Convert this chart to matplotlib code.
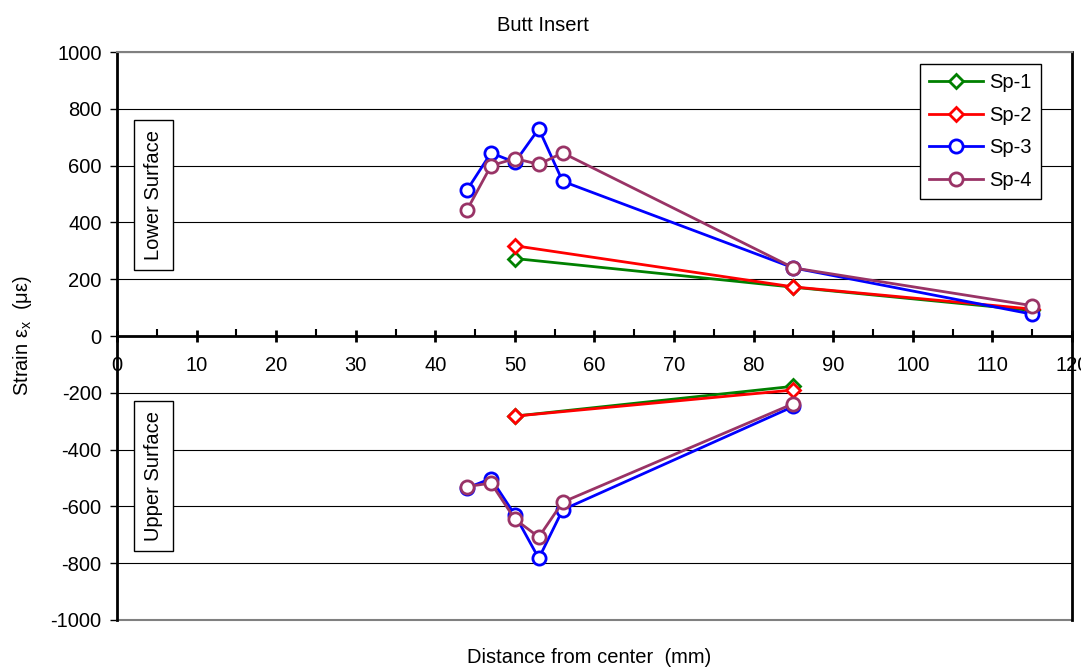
import numpy as np
import matplotlib.pyplot as plt
from matplotlib.ticker import MultipleLocator

plt.rcParams['font.family'] = ['Liberation Sans', 'DejaVu Sans']
plt.rcParams['axes.unicode_minus'] = False

# lower surface (positive strain)
x_low_13 = [50, 85, 115]
sp1_low = [273, 172, 90]
sp2_low = [318, 173, 95]
x_low_34 = [44, 47, 50, 53, 56, 85, 115]
sp3_low = [515, 645, 612, 730, 545, 240, 77]
sp4_low = [445, 600, 625, 605, 645, 240, 107]

# upper surface (negative strain)
x_up_12 = [50, 85]
sp1_up = [-282, -177]
sp2_up = [-282, -190]
x_up_34 = [44, 47, 50, 53, 56, 85]
sp3_up = [-535, -502, -630, -783, -612, -248]
sp4_up = [-530, -518, -645, -708, -585, -238]

labels = ["Sp-1", "Sp-2", "Sp-3", "Sp-4"]
colors = ["#008000", "#ff0000", "#0000ff", "#993366"]

fs = 14.5

fig = plt.figure(figsize=(10.81, 6.68), dpi=100)
ax = fig.add_axes([0.1082, 0.0719, 0.8835, 0.8501])

series = [
    (x_low_13, sp1_low, x_up_12, sp1_up, "D"),
    (x_low_13, sp2_low, x_up_12, sp2_up, "D"),
    (x_low_34, sp3_low, x_up_34, sp3_up, "o"),
    (x_low_34, sp4_low, x_up_34, sp4_up, "o"),
]
for (xl, yl, xu, yu, m), lab, c in zip(series, labels, colors):
    ms = 7.5 if m == "D" else 9.5
    ax.plot(xl, yl, color=c, lw=2, marker=m, ms=ms, mfc="white", mec=c, mew=2, label=lab, zorder=3)
    ax.plot(xu, yu, color=c, lw=2, marker=m, ms=ms, mfc="white", mec=c, mew=2, zorder=3)

ax.set_xlim(0, 120)
ax.set_ylim(-1000, 1000)
ax.yaxis.set_major_locator(MultipleLocator(200))
ax.xaxis.set_major_locator(MultipleLocator(10))
ax.xaxis.set_minor_locator(MultipleLocator(5))
ax.grid(axis="y", color="black", lw=0.8)
ax.set_axisbelow(True)

ax.spines["bottom"].set_position(("data", 0))
ax.spines["bottom"].set_linewidth(2)
ax.spines["left"].set_linewidth(2)
ax.spines["right"].set_linewidth(2)
ax.spines["top"].set_color("#808080")
ax.spines["top"].set_linewidth(1.5)
ax.axhline(-1000, color="#808080", lw=1.5, clip_on=False)

ax.tick_params(axis="x", which="major", direction="inout", length=9, width=2, labelsize=fs, pad=10)
ax.tick_params(axis="x", which="minor", direction="in", length=5, width=1.5)
ax.tick_params(axis="y", direction="out", length=5, width=1, labelsize=fs, pad=6)

fig.text(0.502, 0.962, "Butt Insert", ha="center", va="center", fontsize=fs)
ax.set_ylabel("Strain ε$_\\mathregular{x}$  (με)", fontsize=fs, labelpad=12)
fig.text(0.545, 0.016, "Distance from center  (mm)", ha="center", va="center", fontsize=fs)

box = dict(boxstyle="square,pad=0.5", fc="white", ec="black", lw=1)
ax.text(4.6, 498, "Lower Surface", rotation=90, ha="center", va="center", fontsize=fs, bbox=box)
ax.text(4.6, -493, "Upper Surface", rotation=90, ha="center", va="center", fontsize=fs, bbox=box)

leg = ax.legend(loc="upper right", bbox_to_anchor=(0.9675, 0.979), fontsize=fs, fancybox=False,
                edgecolor="black", framealpha=1, handlelength=2.7, handletextpad=0.3,
                borderpad=0.45, labelspacing=0.68, borderaxespad=0)
leg.get_frame().set_linewidth(1)

fig.savefig("out.png", dpi=100)
